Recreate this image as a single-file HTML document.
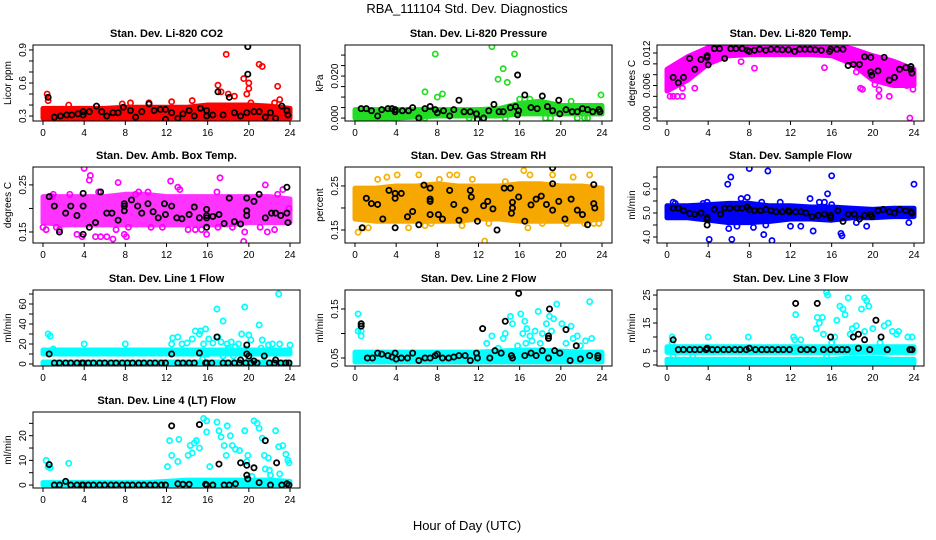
<!DOCTYPE html>
<html><head><meta charset="utf-8"><title>RBA_111104 Std. Dev. Diagnostics</title>
<style>
html,body{margin:0;padding:0;background:#fff;}
svg{display:block;font-family:"Liberation Sans",Arial,sans-serif;}
</style></head>
<body>
<svg id="chart" width="936" height="540" viewBox="0 0 936 540">
<text x="467" y="13" font-size="13" text-anchor="middle">RBA_111104  Std. Dev. Diagnostics</text>
<text x="467" y="530" font-size="13" text-anchor="middle">Hour of Day (UTC)</text>
</svg>
<script>
// ---- data (hour of day, value) ----
const hourTicks=[0,4,8,12,16,20,24];
const bandHours=[0,2,4,6,8,10,12,14,16,18,20,22,24];

// CO2
const co2BandLo=[0.28,0.28,0.28,0.28,0.28,0.28,0.28,0.28,0.28,0.28,0.28,0.28,0.28];
const co2BandHi=[0.37,0.37,0.37,0.37,0.38,0.38,0.38,0.38,0.40,0.40,0.40,0.39,0.37];
const co2Red=[[0.4,0.5],[0.5,0.44],[2.5,0.4],[7.7,0.41],[8.5,0.42],[10.3,0.42],[12.5,0.43],[14.5,0.44],[17,0.58],[17.3,0.52],[17.8,0.86],[18,0.5],[18.6,0.48],[19.5,0.64],[19.8,0.5],[20,0.6],[20,0.55],[21,0.77],[21.3,0.75],[22.8,0.57],[23,0.45],[20.2,0.42],[22.5,0.42],[1,0.27],[3,0.27],[5.5,0.26],[7.9,0.26]];
const co2Black=[[0.5,0.47],[1.1,0.29],[1.7,0.3],[2.3,0.31],[2.8,0.31],[3.4,0.32],[3.9,0.34],[3.9,0.31],[4.5,0.34],[5.2,0.39],[5.7,0.34],[6.2,0.3],[6.8,0.33],[7.3,0.33],[7.8,0.38],[8.5,0.35],[9,0.29],[9.6,0.34],[10.3,0.41],[10.8,0.35],[11.4,0.36],[11.9,0.36],[11.9,0.27],[12.5,0.33],[13.1,0.28],[13.6,0.32],[14.2,0.35],[14.7,0.3],[15.3,0.37],[15.9,0.35],[15.9,0.3],[16.5,0.31],[17,0.52],[17.5,0.31],[18.1,0.47],[18.6,0.33],[19.2,0.3],[19.8,0.33],[19.9,0.68],[19.9,0.93],[20.5,0.34],[21,0.34],[21.6,0.29],[22.1,0.33],[22.6,0.28],[23.2,0.39],[23.7,0.35],[23.8,0.31]];

// Pressure
const presBandLo=[0,0,0,0.0005,0.001,0.001,0.001,0.001,0.002,0.002,0.002,0.002,0.002];
const presBandHi=[0.004,0.004,0.004,0.004,0.004,0.004,0.004,0.0045,0.007,0.008,0.006,0.006,0.006];
const presGreen=[[6.8,0.0125],[7.8,0.0305],[8,0.010],[8.5,0.0115],[13.3,0.034],[13.9,0.0185],[14.4,0.0235],[14.8,0.017],[15.5,0.0305],[16,0.009],[23.9,0.011],[6.2,0],[6.8,0],[11.1,0],[14.6,0],[18.5,0],[19,0],[21.6,0],[22.3,0],[22.6,0],[0.5,0],[1.5,0],[2.5,0],[3.5,0],[4.5,0.001],[17,0.009],[21,0.008]];
const presBlack=[[0.6,0.0045],[1.1,0.0045],[1.6,0.0035],[2.2,0.001],[2.6,0.004],[3.2,0.0045],[3.6,0.0045],[3.9,0.004],[3.9,0.003],[4.6,0.0035],[5.2,0.0035],[5.6,0.005],[6.2,0.0],[6.8,0.0045],[7.3,0.0055],[7.8,0.004],[8,0.0025],[8.6,0.0035],[9.2,0.001],[9.6,0.004],[10.1,0.0085],[10.6,0.003],[11.2,0.003],[11.8,0.002],[11.9,-0.0005],[12.5,0.0],[13,0.0035],[13.5,0.0065],[14,0.003],[14.4,0.003],[15.1,0.005],[15.6,0.0055],[15.9,0.0035],[15.8,0.0015],[15.8,0.0205],[16.5,0.011],[17.1,0.005],[17.7,0.0045],[18.2,0.0105],[18.7,0.0055],[19.2,0.0035],[19.8,0.0085],[19.9,0.002],[20.5,0.004],[21.1,0.003],[21.6,0.003],[22.1,0.0045],[22.6,0.004],[23.1,0.003],[23.7,0.004],[23.8,0.003]];

// Li-820 temperature
const tempBandLo=[0.005,0.007,0.010,0.0115,0.0117,0.0117,0.0117,0.0117,0.0115,0.010,0.007,0.006,0.006];
const tempBandHi=[0.009,0.0113,0.013,0.0134,0.0134,0.0134,0.0134,0.0134,0.0134,0.0128,0.0115,0.0105,0.009];
const tempMagenta=[[0.3,0.004],[0.6,0.004],[1,0.004],[1.5,0.004],[1.5,0.0055],[2.7,0.0055],[7.2,0.0104],[8.5,0.0092],[15.3,0.0093],[18.4,0.0085],[18.8,0.0055],[19,0.0053],[20.6,0.0052],[20.6,0.004],[21.6,0.004],[23.6,0.0],[23.9,0.0053],[23.3,0.006],[20.2,0.0062],[0.2,0.0055],[1,0.0075]];
const tempBlack=[[0.6,0.0075],[1.1,0.0065],[1.6,0.0075],[2.2,0.011],[2.7,0.009],[3.3,0.0108],[3.9,0.0115],[3.9,0.0112],[4,0.0098],[4.6,0.0128],[5.1,0.0128],[5.6,0.011],[6.2,0.0128],[6.7,0.0128],[7.3,0.0128],[7.8,0.0125],[8,0.0123],[8.5,0.0125],[9,0.0127],[9.6,0.0125],[10.1,0.0127],[10.7,0.0127],[11.2,0.0126],[11.8,0.0126],[12.4,0.0123],[12.9,0.0127],[13.4,0.0127],[13.9,0.0127],[14.4,0.0126],[15,0.0125],[15.8,0.0123],[15.9,0.0127],[16.5,0.0127],[17.1,0.0127],[17.6,0.0097],[18.1,0.0099],[18.7,0.0099],[19.2,0.0113],[19.8,0.0112],[19.8,0.0085],[19.9,0.0079],[20.5,0.0087],[21.1,0.0112],[21.6,0.007],[22.1,0.0075],[22.6,0.009],[23.2,0.0093],[23.7,0.0095],[23.7,0.009],[23.8,0.0083]];

// Ambient box temperature
const boxBandLo=[0.17,0.165,0.165,0.165,0.165,0.165,0.165,0.165,0.165,0.165,0.17,0.17,0.17];
const boxBandHi=[0.225,0.225,0.225,0.225,0.23,0.23,0.225,0.225,0.225,0.225,0.225,0.225,0.22];
const boxMagenta=[[0,0.16],[0.3,0.155],[0.9,0.225],[1.3,0.16],[1.6,0.155],[2.6,0.23],[3.3,0.145],[3.8,0.14],[4.5,0.26],[4.6,0.27],[4,0.285],[5.1,0.14],[5.6,0.14],[5.4,0.235],[6.2,0.14],[6.8,0.135],[7.1,0.155],[7.3,0.255],[7.9,0.145],[8.1,0.14],[8.3,0.16],[9.3,0.235],[10.2,0.235],[10.5,0.16],[11.6,0.16],[12.4,0.258],[13.1,0.245],[13.3,0.24],[14.1,0.155],[14.8,0.155],[15.4,0.155],[15.9,0.145],[16.9,0.235],[17.2,0.265],[17,0.16],[18.4,0.16],[19.5,0.13],[19.6,0.15],[21.1,0.16],[21.6,0.25],[21.8,0.15],[22.5,0.155],[23.3,0.24],[23.9,0.2],[22.8,0.23],[9,0.23],[1,0.23]];
const boxBlack=[[0.6,0.225],[1.1,0.205],[1.6,0.15],[2.2,0.19],[2.7,0.205],[3.3,0.185],[3.9,0.145],[3.9,0.205],[3.9,0.232],[4.5,0.16],[5.1,0.17],[5.6,0.235],[6.2,0.19],[6.7,0.19],[7.3,0.175],[7.9,0.205],[7.9,0.21],[7.9,0.195],[8.6,0.218],[9.2,0.205],[9.6,0.19],[10.2,0.21],[10.7,0.193],[11.2,0.18],[11.8,0.21],[11.9,0.187],[12.5,0.205],[13,0.18],[13.5,0.178],[14.2,0.187],[14.7,0.203],[15.2,0.18],[15.9,0.198],[15.9,0.185],[15.9,0.18],[15.9,0.16],[16.5,0.183],[17.1,0.187],[17.6,0.168],[18.1,0.222],[18.6,0.172],[19.2,0.167],[19.8,0.222],[19.8,0.195],[19.8,0.185],[20.5,0.215],[21,0.23],[21.6,0.18],[22.2,0.19],[22.6,0.19],[23.1,0.185],[23.7,0.245],[23.7,0.19],[23.8,0.17]];

// Gas stream RH
const rhBandLo=[0.175,0.17,0.17,0.17,0.17,0.17,0.175,0.175,0.17,0.17,0.17,0.17,0.175];
const rhBandHi=[0.245,0.245,0.25,0.25,0.255,0.25,0.25,0.25,0.255,0.255,0.25,0.25,0.245];
const rhOrange=[[0.3,0.145],[0.8,0.155],[1.3,0.155],[2.2,0.265],[3.1,0.27],[4.1,0.275],[5.2,0.155],[6.2,0.275],[6.8,0.16],[7.4,0.165],[8.2,0.265],[9.2,0.275],[9.9,0.275],[10.4,0.16],[11.4,0.265],[12.6,0.125],[13,0.165],[14.6,0.26],[16.4,0.285],[16.8,0.155],[17,0.275],[18.2,0.165],[19.2,0.275],[20.6,0.165],[21.2,0.27],[22.3,0.165],[22.8,0.275],[23.2,0.165],[23.7,0.165]];
const rhBlack=[[0.7,0.155],[1.1,0.222],[1.6,0.21],[2.2,0.208],[2.7,0.175],[3.3,0.24],[3.9,0.233],[3.9,0.222],[3.9,0.155],[4.5,0.233],[5.1,0.18],[5.6,0.192],[6.2,0.162],[6.7,0.252],[7.3,0.245],[7.3,0.22],[7.3,0.215],[7.3,0.185],[8.1,0.185],[8.5,0.175],[9.2,0.24],[9.6,0.208],[10.1,0.172],[10.7,0.195],[11.2,0.24],[11.3,0.225],[11.9,0.17],[12.5,0.205],[12.9,0.215],[13.4,0.198],[13.8,0.15],[14.5,0.245],[15.1,0.245],[15.3,0.213],[15.3,0.2],[15.2,0.188],[15.9,0.225],[16.5,0.17],[17.1,0.207],[17.6,0.22],[18.1,0.227],[18.6,0.208],[19.2,0.255],[19.2,0.195],[19.2,0.291],[19.8,0.215],[20.4,0.175],[21,0.22],[21.6,0.195],[22.1,0.185],[22.6,0.162],[23.2,0.21],[23.2,0.253],[23.3,0.2]];

// Sample flow
const sfBandLo=[4.8,4.8,4.7,4.6,4.6,4.65,4.75,4.75,4.7,4.8,4.8,4.85,4.85];
const sfBandHi=[5.3,5.3,5.35,5.4,5.4,5.3,5.3,5.25,5.25,5.2,5.15,5.2,5.2];
const sfBlue=[[0.6,5.45],[0.8,5.4],[2.8,5.15],[3.5,5.4],[3.9,5.45],[4.1,3.9],[5.9,6.2],[6.2,6.5],[6.3,3.9],[6,4.35],[6.8,4.45],[7.2,5.6],[7.8,5.65],[8,6.85],[8.4,4.4],[9.2,5.45],[9.4,4.1],[9.8,6.75],[9.6,4.5],[10.2,3.85],[11,5.45],[12,4.45],[13,4.45],[13.9,5.6],[14.2,4.25],[14.8,5.45],[15.3,5.45],[15.6,5.8],[16,6.55],[16,5.35],[16.9,4.15],[17,4.05],[18.4,4.6],[19.4,4.45],[23.5,4.6],[24,6.2],[22.8,4.9]];
const sfBlack=[[0.6,5.2],[1.1,5.2],[1.6,5.1],[2.2,4.98],[2.7,4.95],[3.3,5.0],[3.9,4.8],[3.9,4.75],[3.9,4.5],[4.6,5.15],[5.2,4.95],[5.6,5.2],[6.1,5.2],[6.8,5.2],[7.3,5.2],[7.8,5.25],[8,5.15],[8.5,5.1],[9.1,5.1],[9.6,5.15],[10.1,5.1],[10.6,5.05],[11.2,5.05],[11.8,5.1],[11.9,5.05],[12.5,5.05],[13,5.05],[13.5,5.0],[14.1,4.85],[14.7,4.9],[15.3,4.95],[15.9,4.9],[15.9,4.8],[16.6,5.1],[17.1,4.65],[17.6,4.95],[18.2,4.95],[18.7,4.75],[19.2,4.9],[19.8,4.95],[19.9,4.85],[20.5,5.1],[21,5.15],[21.6,5.05],[22.1,5.0],[22.6,5.15],[23.2,5.1],[23.7,5.05],[23.8,5.0]];

// Line 1 flow
const l1BandLo=[10,10,10,10,10,10,10,10,10,10,10,10,10];
const l1BandHi=[14,14,14,14,14,14,14,14,14,14,14,14,14];
const l1LowLo=[0,0,0,0,0,0,0,0,0,0,0,0,0];
const l1LowHi=[2,2,2,2,2,2,2,2,2,2,2,2,2];
const l1Cyan=[[0.5,30],[0.7,28],[1,15],[4,20],[8,20],[12.5,20],[12.6,26],[13.1,27],[13.5,20],[14,21],[14.5,25],[14.8,33],[15.2,30],[15.3,33],[15.6,20],[15.8,35],[16.1,25],[16.5,21],[17,27],[16.9,55],[17.3,22],[17.5,43],[17.9,20],[18,16],[18.3,22],[18.7,17],[19,20],[19.3,30],[19.6,57],[20,29],[20.2,24],[21,39],[21.3,24],[21.6,9],[21.9,19],[22.3,20],[22.9,70],[23,20],[24,19],[16,10],[18.5,8],[17.5,8],[20,6],[15.5,5],[19.7,15],[21.2,16]];
const l1Black=[[0.6,10],[12.5,10],[15.2,11],[16.9,27],[19.8,19],[19.8,10],[20,8],[20.5,3],[21.5,8],[22.6,4],[19.2,4],[1.1,1],[1.6,1],[2.2,1],[2.7,1],[3.3,1],[3.8,1],[3.9,1],[4.4,1],[4.9,1],[5.5,1],[6.0,1],[6.6,1],[7.1,1],[7.7,1],[8.2,1],[8.7,1],[9.3,1],[9.8,1],[10.4,1],[10.9,1],[11.5,1],[11.9,1],[13.1,1],[13.6,1],[14.2,1],[14.7,1],[15.8,1],[15.9,1],[16.4,1],[17.5,1],[18.0,1],[18.6,1],[19.1,1],[19.7,1],[20.2,1],[20.8,1],[22.0,1],[22.5,1],[23.1,1],[23.6,1],[23.9,1]];

// Line 2 flow
const l2BandLo=[0.042,0.042,0.042,0.042,0.042,0.042,0.042,0.042,0.042,0.042,0.042,0.042,0.042];
const l2BandHi=[0.062,0.062,0.062,0.062,0.062,0.062,0.062,0.064,0.066,0.066,0.064,0.062,0.062];
const l2Cyan=[[0.3,0.14],[0.3,0.105],[0.6,0.095],[0.6,0.105],[12.8,0.08],[13.3,0.095],[13.9,0.07],[14.4,0.09],[14.6,0.1],[15.1,0.135],[15.3,0.12],[15.8,0.075],[16.1,0.14],[16.3,0.1],[16.5,0.125],[16.7,0.11],[17,0.095],[17.2,0.085],[17.5,0.105],[17.8,0.145],[18,0.08],[18.2,0.1],[18.6,0.12],[18.9,0.135],[19.1,0.105],[19.6,0.16],[19.3,0.13],[20.1,0.12],[20.5,0.08],[21,0.115],[21.2,0.09],[21.6,0.095],[21.9,0.075],[22.4,0.085],[22.8,0.165],[23,0.09],[14,0.055],[16.6,0.08]];
const l2Black=[[0.6,0.12],[0.6,0.115],[1.2,0.05],[1.7,0.05],[2.2,0.06],[2.6,0.058],[3.2,0.055],[3.6,0.052],[3.9,0.06],[4,0.048],[4.5,0.05],[5.1,0.05],[5.6,0.06],[6.2,0.045],[6.8,0.05],[7.3,0.05],[7.8,0.055],[8,0.058],[8.5,0.05],[9.1,0.05],[9.6,0.052],[10.1,0.055],[10.7,0.055],[11.2,0.045],[11.8,0.06],[11.9,0.05],[12.4,0.11],[13.1,0.05],[13.6,0.065],[14.2,0.06],[14.6,0.125],[15.2,0.055],[15.3,0.05],[15.9,0.182],[16.5,0.055],[17.1,0.06],[17.6,0.055],[18.2,0.065],[18.8,0.095],[18.8,0.09],[18.8,0.05],[18.9,0.15],[19.4,0.065],[19.9,0.06],[20.5,0.108],[20.9,0.045],[21.5,0.075],[22.8,0.055],[23.6,0.055],[23.6,0.05],[21.9,0.048]];

// Line 3 flow
const l3BandLo=[4.5,4.5,4.5,4.5,4.5,4.5,4.5,4.5,4.5,4.5,4.5,4.5,4.5];
const l3BandHi=[6.5,6.5,6.5,6.5,6.5,6.5,6.5,6.5,6.5,6.5,6.5,6.5,6.5];
const l3LowLo=[0.5,0.5,0.5,0.5,0.5,0.5,0.5,0.5,0.5,0.5,0.5,0.5,0.5];
const l3LowHi=[2,2,2,2,2,2,2,2,2,2.5,2.5,2,2];
const l3Cyan=[[0.5,10],[0.5,8],[0.6,3],[4,10],[5,6],[2.5,3],[7.9,10],[12.3,10],[12.4,9],[12.5,18],[13,9],[14.5,13],[14.6,17],[14.8,15],[15.1,17],[15.2,11],[15.5,26],[15.6,25],[16,8],[16.3,10],[16.5,16],[16.8,21],[17.1,20],[17.3,18],[17.6,24],[17.8,11],[18,13],[18.4,14],[18.9,20],[19.2,24],[19.4,23],[19.6,21],[19.2,12],[20,13],[20.7,8],[21.1,14],[21.5,15],[21.9,12],[22.3,11],[22.5,12],[23.4,10],[23.8,10],[15.5,3],[18,3],[20,1],[23.8,0]];
const l3Black=[[0.6,9],[1.1,5.5],[1.6,5.5],[2.2,5.5],[2.7,5.5],[3.2,5.5],[3.8,5.5],[3.9,6],[4.4,5.5],[4.9,5.5],[5.5,5.5],[6.0,5.5],[6.6,5.5],[7.1,5.5],[7.7,5.5],[8.0,6],[8.6,5.5],[9.2,5.5],[9.7,5.5],[10.2,5.5],[10.8,5.5],[11.3,5.5],[11.9,5.5],[12.5,22],[13.0,5.5],[13.6,5.5],[14.2,5.5],[14.6,22],[15.2,5.5],[15.9,10],[15.9,5.5],[16.5,5.5],[17.0,5.5],[17.5,5.5],[18.1,10],[18.6,11],[18.6,6],[19.2,9],[19.7,5.5],[20.3,16],[20.8,10],[21.4,5.5],[23.6,5.5],[23.8,5.5]];

// Line 4 (LT) flow
const l4BandLo=[0,0,0,0,0,0,0,0,0,0,0,0,0];
const l4BandHi=[1,1,1,1,1,1,1.5,2,2,2,2,2,1.5];
const l4Cyan=[[0.3,10],[0.5,7.5],[0.7,7],[2.5,8.8],[12.1,7.5],[12.3,18],[12.5,12],[13.2,18.5],[13.1,9.5],[14.1,12],[14.3,16],[14.5,13],[14.7,17],[14.9,18],[15.2,15],[15.6,27],[15.9,26],[15.9,21.5],[16.2,7.5],[16.9,25.5],[17.1,22],[17.3,19.5],[17.6,16],[17.9,24],[17.8,12],[18.2,20],[18.4,16],[18.7,14.5],[19.1,14],[19.6,22],[19.9,12],[19.8,9.5],[20.5,26],[20.8,25],[21,23],[21.3,19],[21.5,12],[21.9,11],[22.1,4],[22.6,22],[22.9,15.5],[23.3,16],[23.6,12.5],[23.8,10],[23.9,9],[23,4.5],[22,6],[21.6,6.5],[20.3,3.5],[20,1.5]];
const l4Black=[[0.6,8.3],[2.2,1.5],[1.1,0],[1.6,0],[2.7,0],[3.3,0],[3.8,0],[3.9,0],[4.4,0],[4.9,0],[5.5,0],[6.0,0],[6.6,0],[7.1,0],[7.7,0],[8.2,0],[8.7,0],[9.3,0],[9.8,0],[10.4,0],[10.9,0],[11.5,0],[11.9,0],[12.5,24],[13.1,0.5],[13.6,0.3],[14.2,0.3],[15.2,24.5],[15.8,0.3],[15.9,0],[16.5,0],[17.1,8.5],[17.6,0],[18.1,0],[18.7,0.5],[19.2,9],[19.8,4],[19.9,2.5],[19.8,8],[20.5,7],[21,1],[21.6,18],[22.1,0],[22.7,9],[23.2,0],[23.7,0.5],[23.9,0]];

// ---- layout ----
const NS='http://www.w3.org/2000/svg';
const svg=document.getElementById('chart');
const colLeft=[33,345,657], rowTop=[45,167,290,412], PW=267, PH=76;
function mk(tag,attrs,parent){const e=document.createElementNS(NS,tag);for(const k in attrs)e.setAttribute(k,attrs[k]);(parent||svg).appendChild(e);return e;}
function panel(id,col,row,title,ytitle,yTop,yBot,yTicks,yLabels,yLabelFmt,bands,pts,color,blacks){
  const L=colLeft[col],T=rowTop[row],R=L+PW,B=T+PH;
  const g=mk('g',{});
  
  
  const xs=h=>L+10+h*(PW-20)/24;
  const ys=v=>T+(yTop-v)/(yTop-yBot)*PH;
  const clipId='clip-'+id;
  const cp=mk('clipPath',{id:clipId},g);mk('rect',{x:L,y:T,width:PW,height:PH},cp);
  const plot=mk('g',{'clip-path':'url(#'+clipId+')'},g);
  bands.forEach((b,bi)=>{
    let pts2=bandHours.map((h,i)=>xs(h)+','+ys(b.hi[i]));
    pts2=pts2.concat(bandHours.slice().reverse().map((h,i)=>xs(h)+','+ys(b.lo[bandHours.length-1-i])));
    const poly=mk('polygon',{points:pts2.join(' '),fill:b.fill,stroke:b.fill,'stroke-width':5,'stroke-linejoin':'round'},plot);
    
    
  });
  pts.forEach(p=>{
    const c=mk('circle',{cx:xs(p[0]),cy:ys(p[1]),r:2.6,fill:'none',stroke:color,'stroke-width':1.7},plot);
    
    
  });
  blacks.forEach(p=>{
    const c=mk('circle',{cx:xs(p[0]),cy:ys(p[1]),r:2.6,fill:'none',stroke:'#000','stroke-width':1.8},plot);
    
    
  });
  const box=mk('rect',{x:L,y:T,width:PW,height:PH,fill:'none',stroke:'#000','stroke-width':1},g);
  
  
  const t=mk('text',{x:L+PW/2,y:T-8,'font-size':11,'font-weight':'bold','text-anchor':'middle'},g);t.textContent=title;
  
  
  hourTicks.forEach(h=>{
    mk('line',{x1:xs(h),x2:xs(h),y1:B,y2:B+4,stroke:'#000'},g);
    const tl=mk('text',{x:xs(h),y:B+15,'font-size':10,'text-anchor':'middle'},g);tl.textContent=h;
    
    
  });
  yTicks.forEach(v=>{mk('line',{x1:L-4,x2:L,y1:ys(v),y2:ys(v),stroke:'#000'},g);});
  yLabels.forEach(v=>{
    const y=ys(v);
    const tl=mk('text',{x:L-7,y:y,'font-size':10,'text-anchor':'middle',transform:'rotate(-90 '+(L-7)+' '+y+')'},g);
    tl.textContent=v.toFixed(yLabelFmt);
    
    
  });
  const yt=mk('text',{x:L-22,y:T+PH/2,'font-size':10,'text-anchor':'middle',transform:'rotate(-90 '+(L-22)+' '+(T+PH/2)+')'},g);
  yt.textContent=ytitle;
  
  
}
panel('co2',0,0,'Stan. Dev. Li-820 CO2','Licor ppm',0.945,0.255,[0.3,0.4,0.5,0.6,0.7,0.8,0.9],[0.3,0.6,0.9],1,[{lo:co2BandLo,hi:co2BandHi,fill:'#ff0000'}],co2Red,'#ff0000',co2Black);
panel('pressure',1,0,'Stan. Dev. Li-820 Pressure','kPa',0.0348,-0.0014,[0,0.005,0.01,0.015,0.02,0.025,0.03],[0,0.02],3,[{lo:presBandLo,hi:presBandHi,fill:'#22dd22'}],presGreen,'#22dd22',presBlack);
panel('li820-temp',2,0,'Stan. Dev. Li-820 Temp.','degrees C',0.01348,-0.00055,[0,0.002,0.004,0.006,0.008,0.010,0.012],[0,0.006,0.012],3,[{lo:tempBandLo,hi:tempBandHi,fill:'#ff00ff'}],tempMagenta,'#ff00ff',tempBlack);
panel('box-temp',0,1,'Stan. Dev. Amb. Box Temp.','degrees C',0.288,0.1266,[0.15,0.2,0.25],[0.15,0.25],2,[{lo:boxBandLo,hi:boxBandHi,fill:'#ff33ff'}],boxMagenta,'#ff00ff',boxBlack);
panel('gas-rh',1,1,'Stan. Dev. Gas Stream RH','percent',0.293,0.1205,[0.15,0.2,0.25],[0.15,0.25],2,[{lo:rhBandLo,hi:rhBandHi,fill:'#f7a800'}],rhOrange,'#f5b000',rhBlack);
panel('sample-flow',2,1,'Stan. Dev. Sample Flow','ml/min',6.917,3.75,[4,4.5,5,5.5,6,6.5],[4,5,6],1,[{lo:sfBandLo,hi:sfBandHi,fill:'#0000ff'}],sfBlue,'#0000ff',sfBlack);
panel('line1-flow',0,2,'Stan. Dev. Line 1 Flow','ml/min',74,-2,[0,10,20,30,40,50,60,70],[0,20,40,60],0,[{lo:l1BandLo,hi:l1BandHi,fill:'#00ffff'},{lo:l1LowLo,hi:l1LowHi,fill:'#00ffff'}],l1Cyan,'#00ffff',l1Black);
panel('line2-flow',1,2,'Stan. Dev. Line 2 Flow','ml/min',0.1888,0.0337,[0.05,0.1,0.15],[0.05,0.15],2,[{lo:l2BandLo,hi:l2BandHi,fill:'#00ffff'}],l2Cyan,'#00ffff',l2Black);
panel('line3-flow',2,2,'Stan. Dev. Line 3 Flow','ml/min',26.8,-0.36,[0,5,10,15,20,25],[0,5,15,25],0,[{lo:l3BandLo,hi:l3BandHi,fill:'#00ffff'},{lo:l3LowLo,hi:l3LowHi,fill:'#00ffff'}],l3Cyan,'#00ffff',l3Black);
panel('line4-flow',0,3,'Stan. Dev. Line 4 (LT) Flow','ml/min',29.6,-1.2,[0,5,10,15,20,25],[0,10,20],0,[{lo:l4BandLo,hi:l4BandHi,fill:'#00ffff'}],l4Cyan,'#00ffff',l4Black);
</script>
</body></html>
